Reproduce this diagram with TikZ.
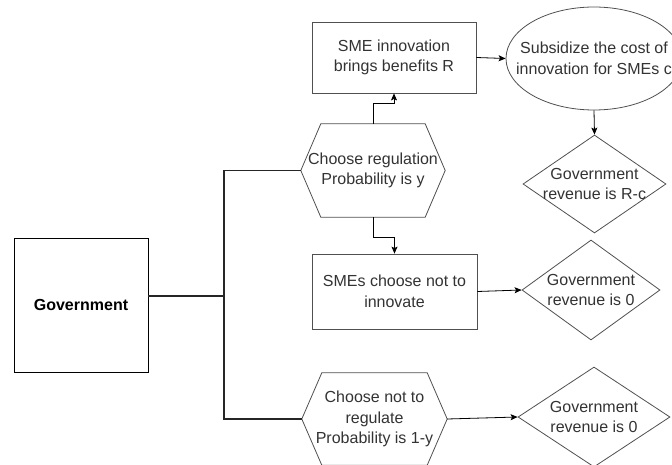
\documentclass[tikz,border=0pt]{standalone}
\usepackage{fontspec}
\setmainfont{Liberation Sans}
\usetikzlibrary{arrows.meta,shapes.geometric,calc}
\definecolor{txt}{HTML}{333333}
\definecolor{edge}{HTML}{505050}
\tikzset{
  lbl/.style={font=\fontsize{16}{20.5}\selectfont, text=txt, align=center, inner sep=0pt},
  box/.style={lbl, draw=edge, line width=0.8pt},
  arr/.style={draw=black, line width=0.8pt, -{Stealth[length=7pt,width=6pt,inset=1.5pt]}},
  trunk/.style={draw=black!85, line width=1.8pt},
}
\begin{document}
\begin{tikzpicture}[x=1pt,y=-1pt]
\clip (0,0) rectangle (672,465);
\useasboundingbox (0,0) rectangle (672,465);
\fill[white] (0,0) rectangle (672,465);

% Government
\node[draw=black, line width=0.9pt, minimum width=134pt, minimum height=134pt,
      font=\fontsize{16}{20}\selectfont\bfseries, inner sep=0pt] (gov) at (81,305) {Government};

% hexagons (text nodes, outline drawn from anchors)
\node[lbl, minimum width=144pt, minimum height=93pt] (hexA) at (373,170.5) {Choose regulation\\Probability is y};
\node[lbl, minimum width=145pt, minimum height=92pt] (hexB) at (374.5,419) {Choose not to\\regulate\\Probability is 1-y};
\foreach \h in {hexA,hexB}{
  \draw[edge, line width=0.8pt] (\h.west) -- ([xshift=20pt]\h.north west) -- ([xshift=-20pt]\h.north east)
    -- (\h.east) -- ([xshift=-20pt]\h.south east) -- ([xshift=20pt]\h.south west) -- cycle;
}

% boxes
\node[box, minimum width=164pt, minimum height=71pt] (sme) at (394,57.5) {SME innovation\\brings benefits R};
\node[box, minimum width=165pt, minimum height=75pt] (smes) at (394.5,291.5) {SMEs choose not to\\innovate};

% ellipse
\node[draw=edge, line width=0.8pt, ellipse, inner sep=0pt, minimum width=176pt, minimum height=103pt] (sub) at (594,58.5) {};
\node[lbl] at (sub) {Subsidize the cost of\\innovation for SMEs c};

% diamonds
\node[draw=edge, line width=0.8pt, diamond, inner sep=0pt, minimum width=143pt, minimum height=98pt] (d1) at (594.5,184) {};
\node[lbl] at (d1) {Government\\revenue is R-c};
\node[draw=edge, line width=0.8pt, diamond, inner sep=0pt, minimum width=138pt, minimum height=100pt] (d2) at (591,290) {};
\node[lbl] at (d2) {Government\\revenue is 0};
\node[draw=edge, line width=0.8pt, diamond, inner sep=0pt, minimum width=152pt, minimum height=100pt] (d3) at (594,417) {};
\node[lbl] at (d3) {Government\\revenue is 0};

% trunk
\coordinate (j) at (224,296);
\draw[trunk] (gov.east |- j) -- (j);
\draw[trunk] (hexA.west) -| (j) |- (hexB.west);

% arrows
\draw[arr] (hexA.north) -- ++(0,-20) -| (sme.south);
\draw[arr] (hexA.south) -- ++(0,20) -| (smes.north);
\draw[arr] (sme.east) -- (sub.west);
\draw[arr] (sub.south) -- (d1.north);
\draw[arr] (smes.east) -- (d2.west);
\draw[arr] (hexB.east) -- (d3.west);
\end{tikzpicture}
\end{document}
